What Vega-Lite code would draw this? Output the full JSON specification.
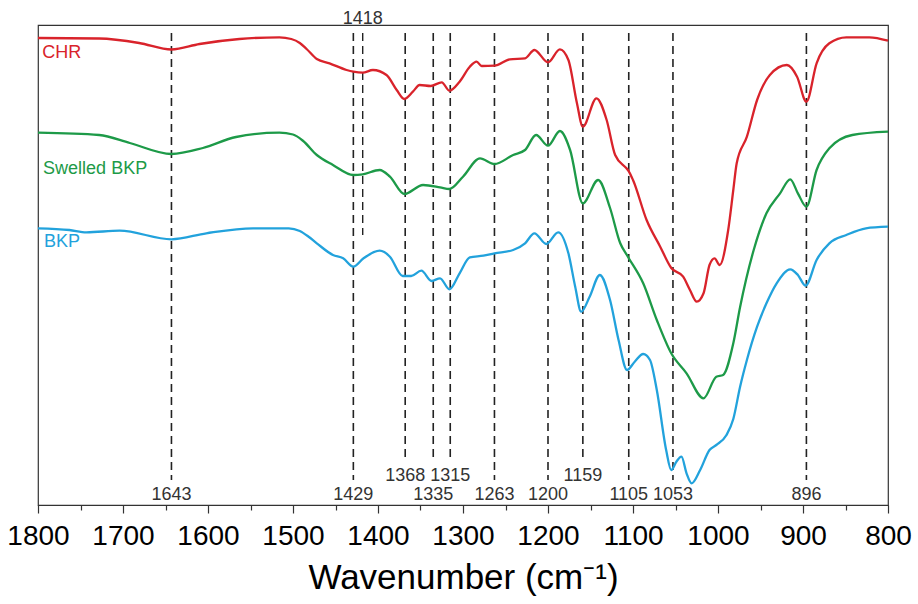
{
  "$schema": "https://vega.github.io/schema/vega-lite/v6.json",
  "width": 850,
  "height": 480,
  "autosize": {"type": "none"},
  "padding": {"left": 38, "top": 25, "right": 30, "bottom": 99},
  "background": "white",
  "config": {"view": {"stroke": "#333", "strokeWidth": 1.2}, "font": "Liberation Sans"},
  "datasets": {
    "spectra": [
      {"series":"CHR","wn":1800,"v":467},{"series":"CHR","wn":1728,"v":466.5},{"series":"CHR","wn":1681,"v":462},{"series":"CHR","wn":1643,"v":455.5},{"series":"CHR","wn":1610,"v":461},{"series":"CHR","wn":1563,"v":466},{"series":"CHR","wn":1516,"v":467.7},{"series":"CHR","wn":1502,"v":466},{"series":"CHR","wn":1492,"v":462},{"series":"CHR","wn":1484,"v":456},{"series":"CHR","wn":1472,"v":446},{"series":"CHR","wn":1457,"v":441.7},{"series":"CHR","wn":1437,"v":435},{"series":"CHR","wn":1429,"v":433.3},{"series":"CHR","wn":1418,"v":432.3},{"series":"CHR","wn":1406,"v":435},{"series":"CHR","wn":1390,"v":430},{"series":"CHR","wn":1378,"v":415},{"series":"CHR","wn":1369,"v":406},{"series":"CHR","wn":1359,"v":413.3},{"series":"CHR","wn":1351,"v":420},{"series":"CHR","wn":1338,"v":419},{"series":"CHR","wn":1325,"v":422.7},{"series":"CHR","wn":1316,"v":414.3},{"series":"CHR","wn":1304,"v":423.3},{"series":"CHR","wn":1292,"v":438.3},{"series":"CHR","wn":1284,"v":443.3},{"series":"CHR","wn":1278,"v":439},{"series":"CHR","wn":1263,"v":439.3},{"series":"CHR","wn":1245,"v":445.7},{"series":"CHR","wn":1227,"v":446.7},{"series":"CHR","wn":1216,"v":455},{"series":"CHR","wn":1200,"v":442.7},{"series":"CHR","wn":1186,"v":455.7},{"series":"CHR","wn":1176,"v":445},{"series":"CHR","wn":1166,"v":402},{"series":"CHR","wn":1159,"v":378.3},{"series":"CHR","wn":1143,"v":406.7},{"series":"CHR","wn":1131,"v":385},{"series":"CHR","wn":1121,"v":350},{"series":"CHR","wn":1108,"v":337},{"series":"CHR","wn":1106,"v":335},{"series":"CHR","wn":1100,"v":325},{"series":"CHR","wn":1084,"v":285},{"series":"CHR","wn":1068,"v":258.3},{"series":"CHR","wn":1055,"v":237},{"series":"CHR","wn":1041,"v":228.3},{"series":"CHR","wn":1033,"v":215},{"series":"CHR","wn":1025,"v":203.3},{"series":"CHR","wn":1017,"v":211.7},{"series":"CHR","wn":1010,"v":240},{"series":"CHR","wn":1004,"v":246.7},{"series":"CHR","wn":998,"v":240},{"series":"CHR","wn":988,"v":275},{"series":"CHR","wn":982,"v":315},{"series":"CHR","wn":978,"v":341.7},{"series":"CHR","wn":966,"v":368.3},{"series":"CHR","wn":954,"v":405},{"series":"CHR","wn":939,"v":430},{"series":"CHR","wn":919,"v":440},{"series":"CHR","wn":907,"v":428.3},{"series":"CHR","wn":896,"v":403.3},{"series":"CHR","wn":884,"v":441.7},{"series":"CHR","wn":869,"v":461.7},{"series":"CHR","wn":849,"v":467.7},{"series":"CHR","wn":822,"v":467.7},{"series":"CHR","wn":800,"v":464.3},
      {"series":"Swelled BKP","wn":1800,"v":372.3},{"series":"Swelled BKP","wn":1728,"v":370},{"series":"Swelled BKP","wn":1692,"v":362},{"series":"Swelled BKP","wn":1643,"v":351},{"series":"Swelled BKP","wn":1606,"v":357},{"series":"Swelled BKP","wn":1567,"v":368},{"series":"Swelled BKP","wn":1516,"v":372.3},{"series":"Swelled BKP","wn":1500,"v":370.5},{"series":"Swelled BKP","wn":1488,"v":364},{"series":"Swelled BKP","wn":1472,"v":350},{"series":"Swelled BKP","wn":1453,"v":340},{"series":"Swelled BKP","wn":1429,"v":330},{"series":"Swelled BKP","wn":1418,"v":330.7},{"series":"Swelled BKP","wn":1398,"v":335},{"series":"Swelled BKP","wn":1386,"v":328.3},{"series":"Swelled BKP","wn":1369,"v":311},{"series":"Swelled BKP","wn":1347,"v":320},{"series":"Swelled BKP","wn":1327,"v":317.7},{"series":"Swelled BKP","wn":1316,"v":316},{"series":"Swelled BKP","wn":1300,"v":328.3},{"series":"Swelled BKP","wn":1280,"v":346.7},{"series":"Swelled BKP","wn":1263,"v":341},{"series":"Swelled BKP","wn":1241,"v":350},{"series":"Swelled BKP","wn":1227,"v":355},{"series":"Swelled BKP","wn":1214,"v":370},{"series":"Swelled BKP","wn":1200,"v":359.3},{"series":"Swelled BKP","wn":1186,"v":374},{"series":"Swelled BKP","wn":1174,"v":355},{"series":"Swelled BKP","wn":1159,"v":301.7},{"series":"Swelled BKP","wn":1141,"v":325},{"series":"Swelled BKP","wn":1127,"v":297},{"series":"Swelled BKP","wn":1115,"v":261.7},{"series":"Swelled BKP","wn":1106,"v":248.3},{"series":"Swelled BKP","wn":1088,"v":221.7},{"series":"Swelled BKP","wn":1072,"v":185},{"series":"Swelled BKP","wn":1055,"v":151.7},{"series":"Swelled BKP","wn":1037,"v":131.7},{"series":"Swelled BKP","wn":1017,"v":106.7},{"series":"Swelled BKP","wn":1002,"v":128.3},{"series":"Swelled BKP","wn":994,"v":130},{"series":"Swelled BKP","wn":982,"v":161.7},{"series":"Swelled BKP","wn":974,"v":198},{"series":"Swelled BKP","wn":958,"v":255},{"series":"Swelled BKP","wn":943,"v":291.7},{"series":"Swelled BKP","wn":927,"v":311.7},{"series":"Swelled BKP","wn":915,"v":325.7},{"series":"Swelled BKP","wn":906,"v":311.7},{"series":"Swelled BKP","wn":896,"v":298.3},{"series":"Swelled BKP","wn":884,"v":335},{"series":"Swelled BKP","wn":869,"v":356.7},{"series":"Swelled BKP","wn":842,"v":370},{"series":"Swelled BKP","wn":800,"v":373.3},
      {"series":"BKP","wn":1800,"v":276.7},{"series":"BKP","wn":1763,"v":275},{"series":"BKP","wn":1743,"v":272.7},{"series":"BKP","wn":1704,"v":274.3},{"series":"BKP","wn":1643,"v":265.7},{"series":"BKP","wn":1602,"v":271.7},{"series":"BKP","wn":1547,"v":276.7},{"series":"BKP","wn":1505,"v":276.7},{"series":"BKP","wn":1492,"v":274},{"series":"BKP","wn":1482,"v":268.5},{"series":"BKP","wn":1472,"v":261.7},{"series":"BKP","wn":1453,"v":250},{"series":"BKP","wn":1441,"v":246.7},{"series":"BKP","wn":1429,"v":238.3},{"series":"BKP","wn":1417,"v":246.7},{"series":"BKP","wn":1398,"v":254.3},{"series":"BKP","wn":1386,"v":248.3},{"series":"BKP","wn":1371,"v":229},{"series":"BKP","wn":1361,"v":229},{"series":"BKP","wn":1349,"v":234.3},{"series":"BKP","wn":1337,"v":224},{"series":"BKP","wn":1327,"v":226.7},{"series":"BKP","wn":1316,"v":215.7},{"series":"BKP","wn":1304,"v":231.7},{"series":"BKP","wn":1292,"v":247.7},{"series":"BKP","wn":1276,"v":249.3},{"series":"BKP","wn":1263,"v":251.7},{"series":"BKP","wn":1241,"v":255},{"series":"BKP","wn":1227,"v":261.7},{"series":"BKP","wn":1216,"v":271.7},{"series":"BKP","wn":1202,"v":261},{"series":"BKP","wn":1188,"v":272.7},{"series":"BKP","wn":1176,"v":251.7},{"series":"BKP","wn":1168,"v":218.3},{"series":"BKP","wn":1161,"v":193.3},{"series":"BKP","wn":1151,"v":208.3},{"series":"BKP","wn":1139,"v":230},{"series":"BKP","wn":1127,"v":205},{"series":"BKP","wn":1117,"v":165},{"series":"BKP","wn":1107,"v":135},{"series":"BKP","wn":1098,"v":143.3},{"series":"BKP","wn":1088,"v":151},{"series":"BKP","wn":1080,"v":145},{"series":"BKP","wn":1072,"v":115},{"series":"BKP","wn":1061,"v":55},{"series":"BKP","wn":1055,"v":35},{"series":"BKP","wn":1049,"v":43.3},{"series":"BKP","wn":1043,"v":48.3},{"series":"BKP","wn":1037,"v":31.7},{"series":"BKP","wn":1031,"v":21.7},{"series":"BKP","wn":1021,"v":35},{"series":"BKP","wn":1010,"v":55},{"series":"BKP","wn":1002,"v":60},{"series":"BKP","wn":990,"v":70},{"series":"BKP","wn":982,"v":86},{"series":"BKP","wn":974,"v":118.3},{"series":"BKP","wn":966,"v":145},{"series":"BKP","wn":954,"v":178.3},{"series":"BKP","wn":943,"v":201.7},{"series":"BKP","wn":931,"v":221.7},{"series":"BKP","wn":915,"v":235.7},{"series":"BKP","wn":906,"v":230},{"series":"BKP","wn":897,"v":219.3},{"series":"BKP","wn":884,"v":245},{"series":"BKP","wn":869,"v":261.7},{"series":"BKP","wn":849,"v":270},{"series":"BKP","wn":826,"v":276.7},{"series":"BKP","wn":800,"v":278.3}
    ]
  },
  "encoding": {
    "x": {
      "field": "wn",
      "type": "quantitative",
      "scale": {"domain": [800, 1800], "reverse": true, "nice": false, "zero": false},
      "title": "Wavenumber (cm⁻¹)",
      "axis": {
        "values": [800,850,900,950,1000,1050,1100,1150,1200,1250,1300,1350,1400,1450,1500,1550,1600,1650,1700,1750,1800],
        "labelExpr": "datum.value % 100 === 0 ? datum.label : ''",
        "format": "d",
        "tickSize": {"expr": "datum.value % 100 === 0 ? 8 : 5"},
        "tickColor": "#333",
        "tickWidth": 1.2,
        "domainColor": "#333",
        "domainWidth": 1.2,
        "labelFontSize": 28,
        "labelColor": "#000",
        "labelPadding": 9,
        "labelOverlap": false,
        "labelFlush": false,
        "labelBound": false,
        "grid": false,
        "titleFontSize": 35,
        "titleFontWeight": "normal",
        "titleColor": "#000",
        "titlePadding": 10
      }
    }
  },
  "layer": [
    {
      "data": {"values": [{"wn":1643},{"wn":1429},{"wn":1263},{"wn":1200},{"wn":1105},{"wn":1053},{"wn":896}]},
      "mark": {"type": "rule", "strokeDash": [8, 5], "strokeWidth": 1.6, "color": "#222"},
      "encoding": {
        "y": {"datum": 472, "type": "quantitative", "scale": {"domain": [0, 480], "nice": false, "zero": false}, "axis": null},
        "y2": {"datum": 25}
      }
    },
    {
      "data": {"values": [{"wn":1368},{"wn":1335},{"wn":1315},{"wn":1159}]},
      "mark": {"type": "rule", "strokeDash": [8, 5], "strokeWidth": 1.6, "color": "#222"},
      "encoding": {
        "y": {"datum": 472, "type": "quantitative", "axis": null},
        "y2": {"datum": 43}
      }
    },
    {
      "data": {"values": [{"wn":1418}]},
      "mark": {"type": "rule", "strokeDash": [8, 5], "strokeWidth": 1.4, "color": "#222"},
      "encoding": {
        "y": {"datum": 472, "type": "quantitative", "axis": null},
        "y2": {"datum": 270}
      }
    },
    {
      "data": {"name": "spectra"},
      "mark": {"type": "line", "strokeWidth": 2.3, "interpolate": "monotone"},
      "encoding": {
        "y": {"field": "v", "type": "quantitative", "axis": null},
        "color": {
          "field": "series",
          "type": "nominal",
          "scale": {"domain": ["CHR", "Swelled BKP", "BKP"], "range": ["#d9232b", "#1d9a48", "#22a2dc"]},
          "legend": null
        }
      }
    },
    {
      "data": {"values": [{"wn":1643},{"wn":1429},{"wn":1335},{"wn":1263},{"wn":1200},{"wn":1105},{"wn":1053},{"wn":896}]},
      "mark": {"type": "text", "fontSize": 18, "color": "#333", "align": "center", "baseline": "alphabetic"},
      "encoding": {
        "y": {"datum": 5, "type": "quantitative", "axis": null},
        "text": {"field": "wn", "type": "quantitative", "format": "d"}
      }
    },
    {
      "data": {"values": [{"wn":1368},{"wn":1315},{"wn":1159}]},
      "mark": {"type": "text", "fontSize": 18, "color": "#333", "align": "center", "baseline": "alphabetic"},
      "encoding": {
        "y": {"datum": 24, "type": "quantitative", "axis": null},
        "text": {"field": "wn", "type": "quantitative", "format": "d"}
      }
    },
    {
      "data": {"values": [{"wn":1418}]},
      "mark": {"type": "text", "fontSize": 18, "color": "#333", "align": "center", "baseline": "alphabetic"},
      "encoding": {
        "y": {"datum": 481, "type": "quantitative", "axis": null},
        "text": {"field": "wn", "type": "quantitative", "format": "d"}
      }
    },
    {
      "data": {"values": [{"wn": 1795, "name": "CHR"}]},
      "mark": {"type": "text", "fontSize": 18, "color": "#d9232b", "align": "left", "baseline": "alphabetic"},
      "encoding": {"y": {"datum": 447, "type": "quantitative", "axis": null}, "text": {"field": "name"}}
    },
    {
      "data": {"values": [{"wn": 1794, "name": "Swelled BKP"}]},
      "mark": {"type": "text", "fontSize": 18, "color": "#1d9a48", "align": "left", "baseline": "alphabetic"},
      "encoding": {"y": {"datum": 331, "type": "quantitative", "axis": null}, "text": {"field": "name"}}
    },
    {
      "data": {"values": [{"wn": 1793, "name": "BKP"}]},
      "mark": {"type": "text", "fontSize": 18, "color": "#22a2dc", "align": "left", "baseline": "alphabetic"},
      "encoding": {"y": {"datum": 258, "type": "quantitative", "axis": null}, "text": {"field": "name"}}
    }
  ]
}
